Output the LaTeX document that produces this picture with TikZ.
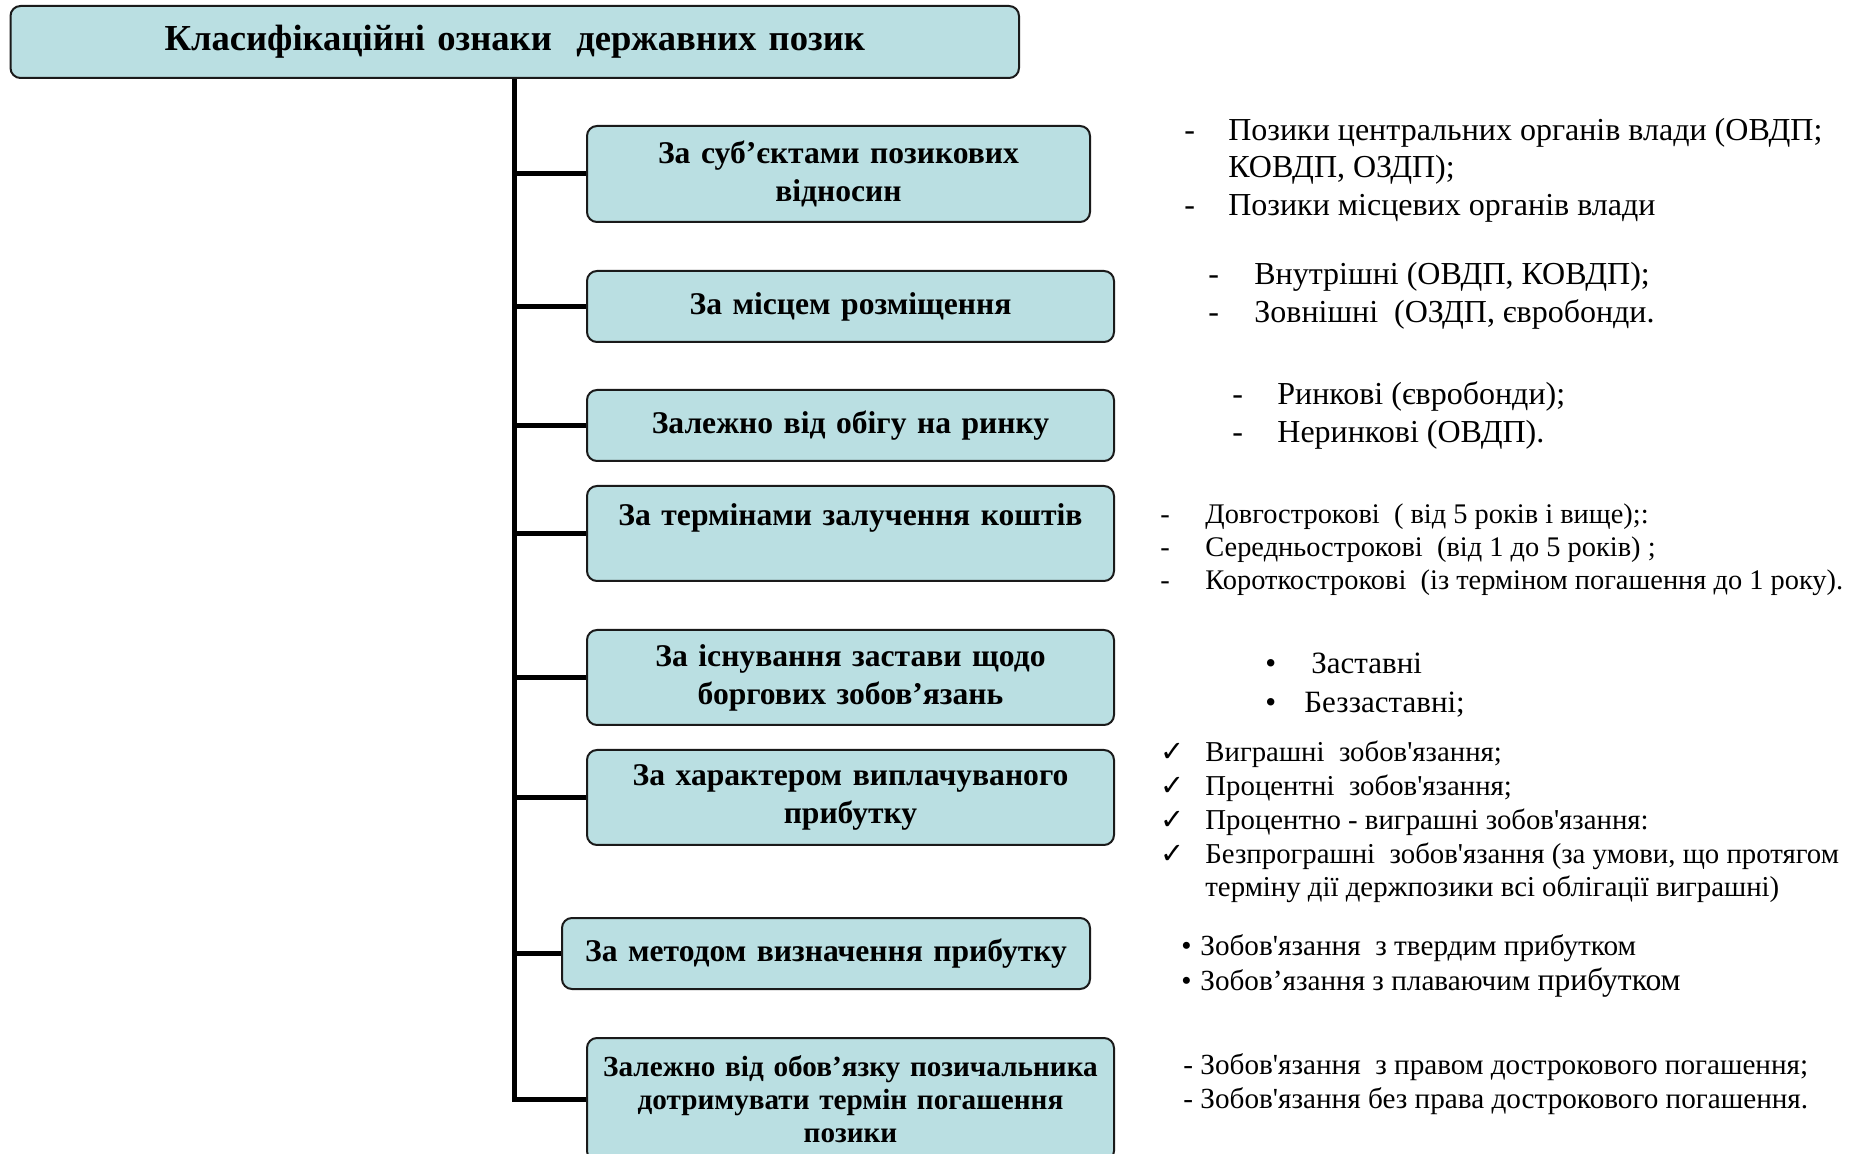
\documentclass[tikz,border=0pt]{standalone}
\usepackage{fontspec}
\setmainfont{Liberation Serif}[Ligatures=TeXOff]
\newfontfamily\symfont{DejaVu Sans}
\usetikzlibrary{positioning}
\definecolor{critfill}{HTML}{BADFE2}
\definecolor{critline}{HTML}{1A1A1A}
\newcommand\mk[2]{\makebox[#1][l]{#2}}
\tikzset{
  crit/.style={rounded corners=5pt, draw=critline, line width=1pt, fill=critfill,
              align=center, inner sep=3pt, anchor=north west,
              font=\bfseries\fontsize{15.8}{19}\selectfont},
  headbox/.style={crit, font=\bfseries\fontsize{18.3}{21}\selectfont},
  notes/.style={align=left, inner sep=0pt, anchor=west},
  trunk/.style={line width=2.5pt, draw=black},
  x=0.5pt, y=0.5pt,
}

\begin{document}
\begin{tikzpicture}
\useasboundingbox (0,0) rectangle (1865,-1154);
\node[headbox, text width=498.25pt, minimum height=36pt] (title) at (9.5,-5)
  {Класифікаційні ознаки\ \ державних позик};
\node[crit, text width=245.5pt, minimum height=48pt] (b1) at (586,-125)
  {За суб’єктами позикових\\відносин};
\node[crit, text width=257.5pt, minimum height=35.5pt] (b2) at (586,-270)
  {За місцем розміщення};
\node[crit, text width=257.5pt, minimum height=35.5pt] (b3) at (586,-389)
  {Залежно від обігу на ринку};
\node[crit, text width=257.5pt, minimum height=47.5pt] (b4) at (586,-485)
  {За термінами залучення коштів\\\mbox{}};
\node[crit, text width=257.5pt, minimum height=47.5pt] (b5) at (586,-629)
  {За існування застави щодо\\боргових зобов’язань};
\node[crit, text width=257.5pt, minimum height=47.5pt] (b6) at (586,-749)
  {За характером виплачуваного\\прибутку};
\node[crit, text width=258pt, minimum height=35.5pt] (b7) at (561,-917)
  {За методом визначення прибутку};
\node[crit, text width=257.5pt, minimum height=61.5pt,
      font=\bfseries\fontsize{14.6}{16.5}\selectfont] (b8) at (586,-1037)
  {Залежно від обов’язку позичальника\\дотримувати термін погашення\\позики};

\draw[trunk] (title.south) |- (b8.west);
\foreach \b in {b1,b2,b3,b4,b5,b6,b7}
  \draw[trunk] (\b.west -| title.south) -- (\b.west);

\node[notes, font=\fontsize{16}{18.75}\selectfont] (s1) at (1184,-170)
  {\mk{22pt}{-}Позики центральних органів влади (ОВДП;\\
   \mk{22pt}{}КОВДП, ОЗДП);\\
   \mk{22pt}{-}Позики місцевих органів влади};
\node[notes, font=\fontsize{16}{19}\selectfont] (s2) at (1208,-295.5)
  {\mk{23pt}{-}Внутрішні (ОВДП, КОВДП);\\
   \mk{23pt}{-}Зовнішні\ \ (ОЗДП, євробонди.};
\node[notes, font=\fontsize{16}{19}\selectfont] (s3) at (1232,-415.5)
  {\mk{22.5pt}{-}Ринкові (євробонди);\\
   \mk{22.5pt}{-}Неринкові (ОВДП).};
\node[notes, font=\fontsize{14.2}{16.5}\selectfont] (s4) at (1160,-549.5)
  {\mk{22.5pt}{-}Довгострокові\ \ ( від 5 років і вище);:\\
   \mk{22.5pt}{-}Середньострокові\ \ (від 1 до 5 років) ;\\
   \mk{22.5pt}{-}Короткострокові\ \ (із терміном погашення до 1 року).};
\node[notes, font=\fontsize{15.5}{19.5}\selectfont] (s5) at (1265,-685)
  {\mk{19.5pt}{•}\hspace{3.5pt}Заставні\\
   \mk{19.5pt}{•}Беззаставні;};
\node[notes, font=\fontsize{14.4}{16.9}\selectfont] (s6) at (1160,-822)
  {\mk{22.5pt}{\symfont ✓}Виграшні\ \ зобов'язання;\\
   \mk{22.5pt}{\symfont ✓}Процентні\ \ зобов'язання;\\
   \mk{22.5pt}{\symfont ✓}Процентно - виграшні зобов'язання:\\
   \mk{22.5pt}{\symfont ✓}Безпрограшні\ \ зобов'язання (за умови, що протягом\\
   \mk{22.5pt}{}терміну дії держпозики всі облігації виграшні)};
\node[notes, font=\fontsize{14.6}{17.5}\selectfont] (s7) at (1181,-966)
  {\mk{9.5pt}{•}Зобов'язання\ \ з твердим прибутком\\
   \mk{9.5pt}{•}Зобов’язання з плаваючим {\fontsize{15.8}{17.5}\selectfont прибутком}};
\node[notes, font=\fontsize{14.6}{17}\selectfont] (s8) at (1183,-1084.5)
  {- Зобов'язання\ \ з правом дострокового погашення;\\
   - Зобов'язання без права дострокового погашення.};
\end{tikzpicture}
\end{document}
